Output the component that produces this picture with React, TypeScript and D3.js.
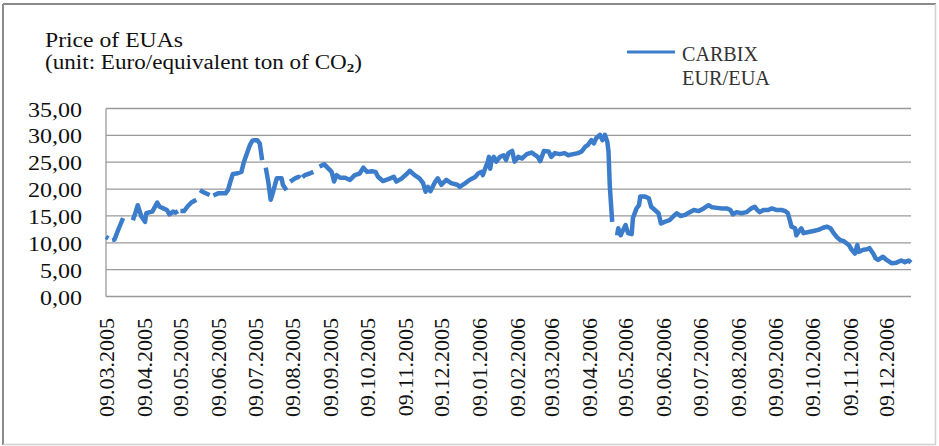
import React from "react";
import * as d3 from "d3";

const titleLines = ["Price of EUAs", "(unit: Euro/equivalent ton of CO"];
const legendLabels = ["CARBIX", "EUR/EUA"];

const yTicks = [0, 5, 10, 15, 20, 25, 30, 35];

const xTickLabels = [
  "09.03.2005", "09.04.2005", "09.05.2005", "09.06.2005", "09.07.2005", "09.08.2005",
  "09.09.2005", "09.10.2005", "09.11.2005", "09.12.2005", "09.01.2006", "09.02.2006",
  "09.03.2006", "09.04.2006", "09.05.2006", "09.06.2006", "09.07.2006", "09.08.2006",
  "09.09.2006", "09.10.2006", "09.11.2006", "09.12.2006",
];

const xDomain = ["2005-03-09", "2006-12-29"];

// CARBIX EUR/EUA price; null marks a gap in the series
const priceDates = [
  "2005-03-09", "2005-03-11", "2005-03-12",
  "2005-03-14", "2005-03-16", "2005-03-19", "2005-03-21", "2005-03-23", "2005-03-27",
  "2005-03-31", "2005-04-02", "2005-04-04", "2005-04-07", "2005-04-10", "2005-04-11", "2005-04-14", "2005-04-16",
  "2005-04-20", "2005-04-22", "2005-04-25", "2005-04-28", "2005-04-30", "2005-05-03", "2005-05-05", "2005-05-07", "2005-05-08",
  "2005-05-09", "2005-05-12", "2005-05-15", "2005-05-18", "2005-05-22", "2005-05-23",
  "2005-05-25", "2005-05-28", "2005-06-01", "2005-06-02", "2005-06-03",
  "2005-06-05", "2005-06-09", "2005-06-15", "2005-06-17", "2005-06-19", "2005-06-21", "2005-06-24", "2005-06-28",
  "2005-06-30", "2005-07-02", "2005-07-05", "2005-07-07", "2005-07-08", "2005-07-11", "2005-07-13", "2005-07-14",
  "2005-07-15", "2005-07-16",
  "2005-07-18", "2005-07-20", "2005-07-22", "2005-07-24", "2005-07-27", "2005-07-31", "2005-08-01", "2005-08-04", "2005-08-05",
  "2005-08-07", "2005-08-11", "2005-08-14", "2005-08-15", "2005-08-16",
  "2005-08-17", "2005-08-19", "2005-08-23", "2005-08-26", "2005-08-28",
  "2005-08-31", "2005-09-04", "2005-09-07", "2005-09-10", "2005-09-12", "2005-09-14", "2005-09-17", "2005-09-21",
  "2005-09-25", "2005-09-29", "2005-10-03", "2005-10-06", "2005-10-09", "2005-10-13", "2005-10-16", "2005-10-18",
  "2005-10-22", "2005-10-27", "2005-10-31", "2005-11-02", "2005-11-06", "2005-11-11", "2005-11-13", "2005-11-17",
  "2005-11-21", "2005-11-24", "2005-11-26", "2005-11-28", "2005-11-30", "2005-12-04", "2005-12-06", "2005-12-09",
  "2005-12-13", "2005-12-17", "2005-12-22", "2005-12-24", "2005-12-28", "2006-01-01", "2006-01-06", "2006-01-08",
  "2006-01-11", "2006-01-12", "2006-01-14", "2006-01-16", "2006-01-17", "2006-01-18", "2006-01-19", "2006-01-21",
  "2006-01-23", "2006-01-26", "2006-01-29", "2006-01-31", "2006-02-02", "2006-02-05", "2006-02-07", "2006-02-10",
  "2006-02-13", "2006-02-17", "2006-02-21", "2006-02-24", "2006-02-26", "2006-02-28", "2006-03-03", "2006-03-07",
  "2006-03-09", "2006-03-12", "2006-03-16", "2006-03-20", "2006-03-23", "2006-03-27", "2006-03-31", "2006-04-03",
  "2006-04-06", "2006-04-08", "2006-04-11", "2006-04-13", "2006-04-15", "2006-04-18", "2006-04-20", "2006-04-22",
  "2006-04-24", "2006-04-25", "2006-04-26", "2006-04-28", "2006-04-30",
  "2006-05-02", "2006-05-03", "2006-05-05", "2006-05-07", "2006-05-09", "2006-05-11", "2006-05-14", "2006-05-15",
  "2006-05-17", "2006-05-18", "2006-05-20", "2006-05-21", "2006-05-25", "2006-05-28", "2006-05-30", "2006-06-02",
  "2006-06-05", "2006-06-07", "2006-06-10", "2006-06-14", "2006-06-17", "2006-06-20", "2006-06-23", "2006-06-27",
  "2006-06-29", "2006-07-04", "2006-07-08", "2006-07-12", "2006-07-16", "2006-07-19", "2006-07-23", "2006-07-27",
  "2006-07-31", "2006-08-03", "2006-08-05", "2006-08-08", "2006-08-12", "2006-08-16", "2006-08-20", "2006-08-23",
  "2006-08-25", "2006-08-27", "2006-08-30", "2006-09-03", "2006-09-06", "2006-09-10", "2006-09-14", "2006-09-17",
  "2006-09-19", "2006-09-21", "2006-09-22", "2006-09-25", "2006-09-26", "2006-09-28", "2006-09-30", "2006-10-02",
  "2006-10-06", "2006-10-10", "2006-10-14", "2006-10-18", "2006-10-21", "2006-10-24", "2006-10-26", "2006-10-29",
  "2006-11-01", "2006-11-04", "2006-11-08", "2006-11-10", "2006-11-13", "2006-11-15", "2006-11-16", "2006-11-20",
  "2006-11-23", "2006-11-25", "2006-11-28", "2006-11-30", "2006-12-02", "2006-12-06", "2006-12-09", "2006-12-13",
  "2006-12-17", "2006-12-21", "2006-12-24", "2006-12-27", "2006-12-29",
];

const priceValues: (number | null)[] = [
  11.1, 10.8, null,
  10.5, 10.6, 12.4, 13.5, 14.6, null,
  14.2, 15.5, 17.0, 14.9, 13.9, 15.5, 15.7, 15.8,
  17.5, 16.7, 16.4, 16.1, 15.3, 15.8, 15.6, 15.9, null,
  15.9, 15.9, 16.8, 17.5, 18.0, null,
  19.8, 19.4, 19.0, 18.9, null,
  18.8, 19.2, 19.2, 19.8, 21.4, 22.8, 22.9, 23.2,
  25.0, 26.3, 28.2, 29.0, 29.1, 29.1, 28.5, 27.0,
  25.4, null,
  24.0, 21.4, 18.0, 19.5, 22.0, 22.0, 20.8, 19.8, null,
  21.4, 22.0, 22.3, 22.0, null,
  22.2, 22.6, 22.9, 23.2, null,
  24.2, 24.6, 23.9, 23.2, 21.4, 22.6, 22.1, 22.1,
  21.7, 22.6, 22.9, 24.0, 23.2, 23.3, 23.2, 22.3,
  21.5, 21.9, 22.3, 21.4, 21.9, 22.9, 23.4, 22.6,
  22.0, 21.1, 19.5, 20.4, 19.6, 21.4, 22.0, 20.8,
  21.7, 21.1, 20.8, 20.4, 21.0, 21.7, 22.3, 22.9,
  23.2, 22.6, 23.9, 25.1, 26.0, 23.8, 25.2, 26.0,
  25.1, 26.0, 26.3, 25.4, 26.7, 27.1, 25.1, 26.0,
  25.7, 26.5, 26.8, 26.3, 26.0, 25.2, 27.1, 27.0,
  26.0, 26.7, 26.5, 26.7, 26.3, 26.5, 26.7, 27.0,
  27.9, 28.2, 29.1, 28.5, 29.5, 30.1, 29.1, 30.1,
  28.8, 27.0, 20.8, 13.9, null,
  11.4, 12.7, 11.4, 12.4, 13.3, 11.8, 11.6, 14.6,
  15.8, 16.4, 17.0, 18.6, 18.6, 18.3, 16.7, 16.1,
  15.5, 13.6, 13.9, 14.2, 14.9, 15.5, 15.0, 15.2,
  15.5, 16.1, 15.9, 16.4, 17.0, 16.6, 16.5, 16.4,
  16.4, 16.1, 15.3, 15.7, 15.5, 15.7, 16.4, 16.7,
  16.1, 15.7, 16.1, 16.1, 16.4, 16.1, 16.1, 15.9,
  15.5, 13.9, 13.0, 12.7, 11.4, 12.1, 12.7, 11.8,
  12.0, 12.2, 12.4, 12.8, 13.0, 12.7, 12.0, 11.1,
  10.5, 10.3, 9.6, 8.8, 8.0, 9.6, 8.3, 8.7,
  8.8, 9.0, 8.0, 7.1, 6.8, 7.4, 6.8, 6.2,
  6.3, 6.7, 6.4, 6.7, 6.3,
];

const W = 939;
const H = 446;
const plot = { left: 106, right: 911, top: 108.5, bottom: 296.5 };
const serif = "'Liberation Serif', 'Times New Roman', serif";

export default function App() {
  const parseIso = d3.utcParse("%Y-%m-%d");
  const parseTick = d3.utcParse("%d.%m.%Y");

  const x = d3
    .scaleUtc()
    .domain(xDomain.map((s) => parseIso(s) as Date))
    .range([plot.left, plot.right]);
  const y = d3.scaleLinear().domain([0, 35]).range([plot.bottom, plot.top]);

  const points: [Date, number | null][] = priceDates.map((s, i) => [parseIso(s) as Date, priceValues[i]]);
  const line = d3
    .line<[Date, number | null]>()
    .defined((d) => d[1] != null)
    .x((d) => x(d[0]))
    .y((d) => y(d[1] as number));

  const fmt = (v: number) => d3.format(".2f")(v).replace(".", ",");

  return (
    <svg
      width={W}
      height={H}
      style={{ position: "absolute", left: 0, top: 0, background: "#fff" }}
      fontFamily={serif}
    >
      <rect x={0} y={0} width={W} height={H} fill="#fff" />
      {/* outer frame */}
      <line x1={3} y1={4} x2={936} y2={4} stroke="#8a8a8a" strokeWidth={2} />
      <line x1={3} y1={4} x2={3} y2={445} stroke="#8a8a8a" strokeWidth={2} />
      <line x1={935.5} y1={4} x2={935.5} y2={445} stroke="#d0d0d0" strokeWidth={1.5} />
      <line x1={3} y1={444.5} x2={936} y2={444.5} stroke="#d0d0d0" strokeWidth={1.5} />

      {/* title */}
      <text x={45} y={47} fontSize={20} fill="#111" textLength={138} lengthAdjust="spacingAndGlyphs">
        {titleLines[0]}
      </text>
      <text x={45} y={69} fontSize={20} fill="#111" textLength={317} lengthAdjust="spacingAndGlyphs">
        {titleLines[1]}
        <tspan fontSize={13} fontWeight="bold" dy={3}>2</tspan>
        <tspan dy={-3}>)</tspan>
      </text>

      {/* legend */}
      <line x1={627} y1={52} x2={675} y2={52} stroke="#3B7DCA" strokeWidth={3} />
      <text x={682} y={61} fontSize={20} fill="#333" textLength={76} lengthAdjust="spacingAndGlyphs">
        {legendLabels[0]}
      </text>
      <text x={682} y={85} fontSize={20} fill="#333" textLength={88} lengthAdjust="spacingAndGlyphs">
        {legendLabels[1]}
      </text>

      {/* gridlines */}
      {yTicks.map((t) => (
        <line key={t} x1={plot.left} x2={plot.right} y1={y(t)} y2={y(t)} stroke="#9a9a9a" strokeWidth={1.3} />
      ))}
      <line x1={plot.left} x2={plot.left} y1={plot.top} y2={plot.bottom} stroke="#9a9a9a" strokeWidth={1.3} />

      {/* y labels */}
      {yTicks.map((t) => (
        <text
          key={t}
          transform={`translate(82,${y(t) + 8}) scale(1.2,1)`}
          textAnchor="end"
          fontSize={20}
          fill="#111"
        >
          {fmt(t)}
        </text>
      ))}

      {/* x labels */}
      {xTickLabels.map((s) => {
        const tx = x(parseTick(s) as Date);
        return (
          <text
            key={s}
            transform={`translate(${tx},318) rotate(-90)`}
            textAnchor="end"
            dy="0.35em"
            fontSize={22}
            fill="#111"
          >
            {s}
          </text>
        );
      })}

      {/* series */}
      <path
        d={line(points) || ""}
        fill="none"
        stroke="#3B7DCA"
        strokeWidth={4.5}
        strokeLinejoin="round"
        strokeLinecap="butt"
      />
    </svg>
  );
}
